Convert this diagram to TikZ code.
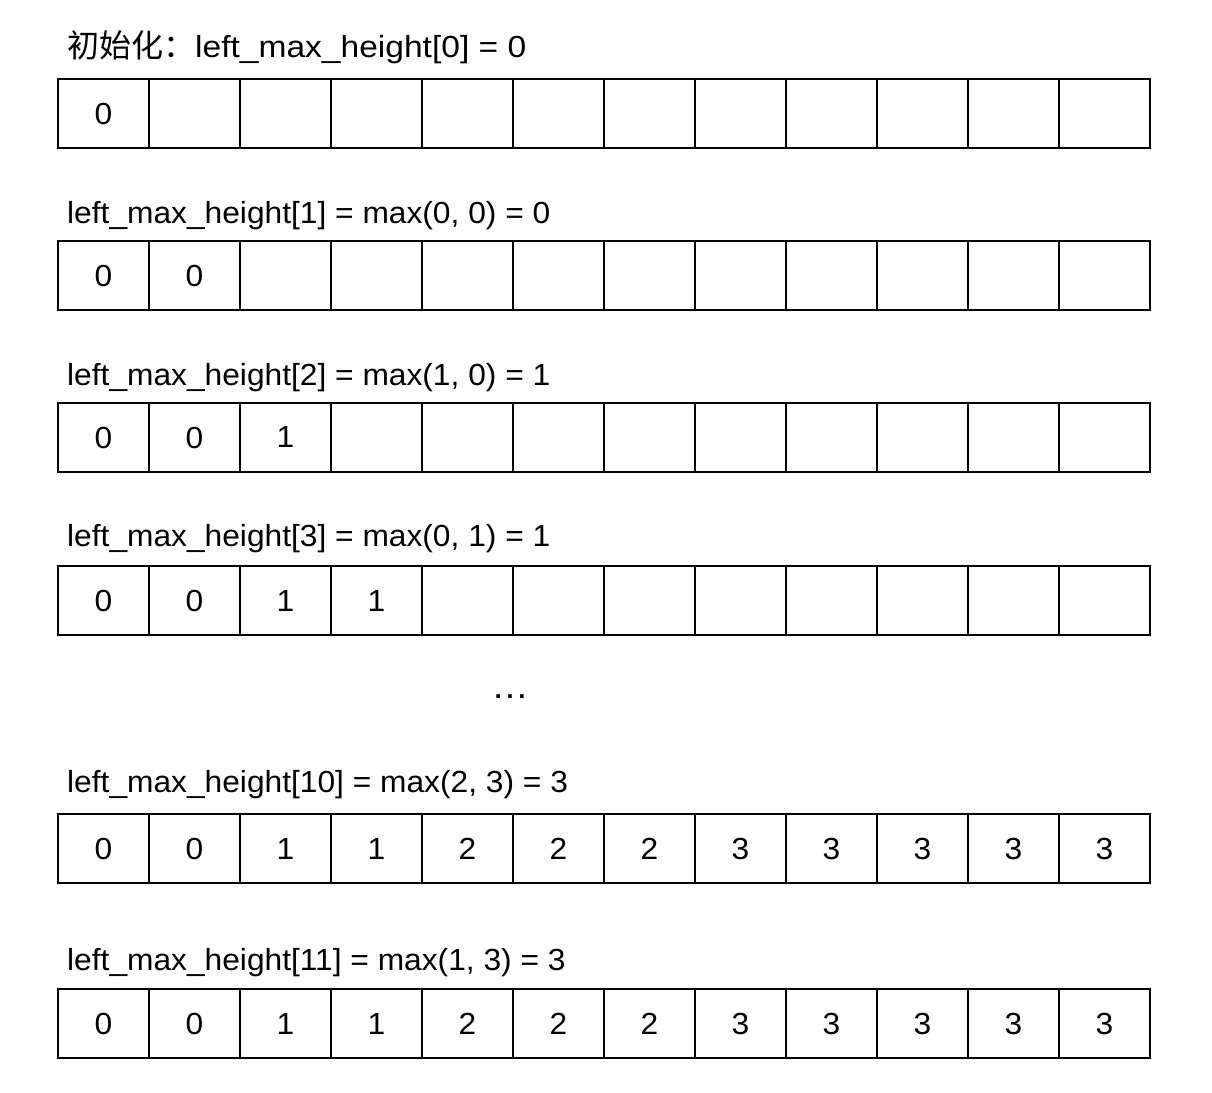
\documentclass[tikz,border=0pt]{standalone}
\usepackage{fontspec}
\setmainfont{Liberation Sans}[FakeStretch=1.04]
\newfontfamily\widefont{Liberation Sans}[FakeStretch=1.10]
\newfontfamily\cjk{Noto Sans CJK SC}
\begin{document}
\begin{tikzpicture}[x=1pt,y=-1pt,
  cell/.style={draw, line width=2pt, minimum width=91pt, minimum height=69pt, inner sep=0pt, outer sep=0pt, anchor=north west},
  num/.style={inner sep=0pt, font=\fontsize{30.5}{30.5}\selectfont},
  lbl/.style={anchor=base west, inner sep=0pt, font=\fontsize{30.5}{30.5}\selectfont}]
\useasboundingbox (0,0) rectangle (1212,1092);
\foreach \r/\y/\vals in {1/79/{0},2/241/{0,0},3/403/{0,0,1},4/566/{0,0,1,1},5/814/{0,0,1,1,2,2,2,3,3,3,3,3},6/989/{0,0,1,1,2,2,2,3,3,3,3,3}}{
  \foreach \c in {1,...,12}{
    \node[cell] (c\r-\c) at ({58+91*(\c-1)},\y) {};
  }
  \foreach \v [count=\c] in \vals {
    \node[num] (t\r-\c) at (c\r-\c) {\v};
  }
}
\node[lbl] (l1) at (67,57) {{\cjk\fontsize{32}{32}\selectfont 初始化：}{\widefont left\_max\_height[0] = 0}};
\node[lbl] (l2) at (67,223) {left\_max\_height[1] = max(0, 0) = 0};
\node[lbl] (l3) at (67,385) {left\_max\_height[2] = max(1, 0) = 1};
\node[lbl] (l4) at (67,546) {left\_max\_height[3] = max(0, 1) = 1};
\node[lbl] (l5) at (67,792) {left\_max\_height[10] = max(2, 3) = 3};
\node[lbl] (l6) at (67,970) {left\_max\_height[11] = max(1, 3) = 3};
\node[anchor=base, inner sep=0pt, font=\fontsize{36}{36}\selectfont] (dots) at (510,698) {…};
\end{tikzpicture}
\end{document}
